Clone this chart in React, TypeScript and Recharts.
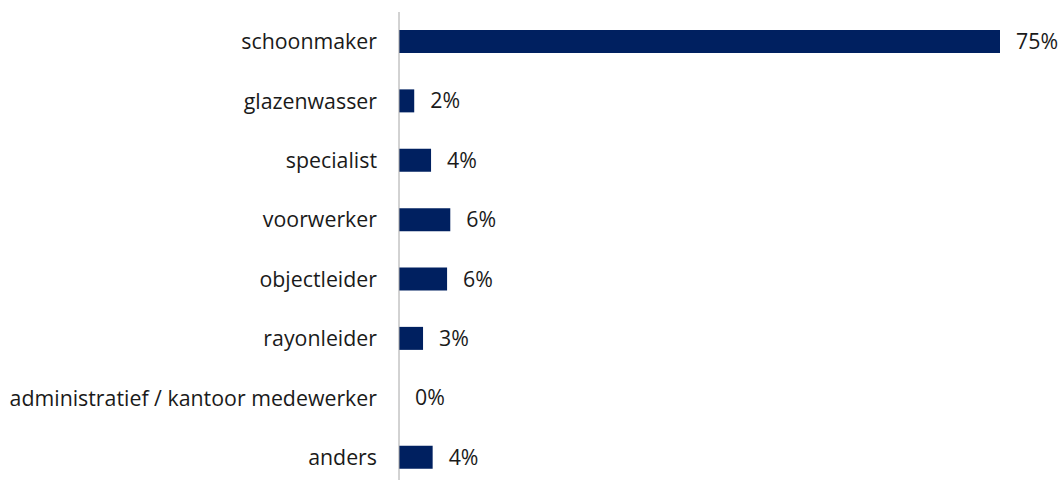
import { BarChart, Bar, XAxis, YAxis, LabelList } from 'recharts';

const functies = [
  'schoonmaker',
  'glazenwasser',
  'specialist',
  'voorwerker',
  'objectleider',
  'rayonleider',
  'administratief / kantoor medewerker',
  'anders',
];
const aandeel = [75, 1.9, 4.0, 6.4, 6.0, 3.0, 0, 4.2];

const data = functies.map((name, i) => ({ name, value: aandeel[i] }));

const font = '"Open Sans", sans-serif';

export default function App() {
  return (
    <div style={{ position: 'absolute', left: 0, top: 0, fontFamily: font }}>
      <BarChart
        width={1061}
        height={490}
        data={data}
        layout="vertical"
        margin={{ top: 12, right: 61, left: 0, bottom: 3 }}
      >
        <XAxis type="number" domain={[0, 75]} hide />
        <YAxis
          type="category"
          dataKey="name"
          width={399}
          tickSize={0}
          tickMargin={22}
          tickLine={false}
          axisLine={{ stroke: '#a6a6a6', strokeWidth: 1 }}
          tick={{ fill: '#1a1a1a', fontSize: 21.33, fontFamily: font }}
          interval={0}
        />
        <Bar
          dataKey="value"
          fill="#002060"
          barSize={23}
          minPointSize={0.01}
          isAnimationActive={false}
        >
          <LabelList
            dataKey="value"
            position="right"
            offset={16}
            formatter={(v: any) => `${Math.round(Number(v))}%`}
            style={{ fill: '#1a1a1a', fontSize: 21.33, fontFamily: font }}
          />
        </Bar>
      </BarChart>
    </div>
  );
}
